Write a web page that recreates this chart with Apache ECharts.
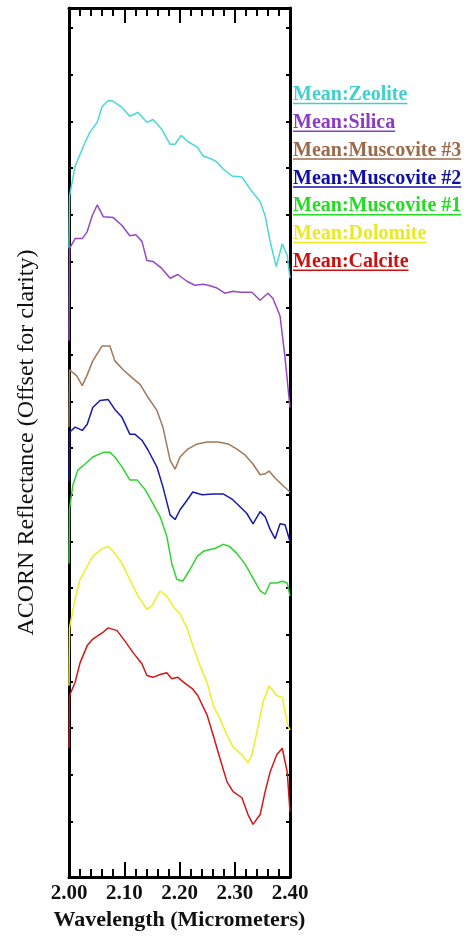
<!DOCTYPE html>
<html>
<head>
<meta charset="utf-8">
<script src="https://cdn.jsdelivr.net/npm/echarts@6/dist/echarts.min.js"></script>
<style>
html,body{margin:0;padding:0;background:#fff;}
#chart{width:468px;height:936px;}
</style>
</head>
<body>
<div id="chart"></div>
<script>
// ---- Data ----
const seriesNames = ['Mean:Zeolite','Mean:Silica','Mean:Muscovite #3','Mean:Muscovite #2','Mean:Muscovite #1','Mean:Dolomite','Mean:Calcite'];
const seriesColors = ['#48d8d8','#9448c8','#a0785a','#1818b0','#30d430','#eeee22','#d01818'];
const legendColors = ['#40d0d0','#8a3cc8','#9c6a4a','#1010a8','#22dd22','#eaea20','#cc1010'];

const xTickLabels = ['2.00','2.10','2.20','2.30','2.40'];
const yTickValues = [1,2,3,4,5,6,7,8,9,10,11,12,13,14,15,16,17,18];

const zeoliteWl = [2.000,2.001,2.011,2.029,2.038,2.051,2.060,2.071,2.080,2.096,2.110,2.125,2.141,2.152,2.168,2.183,2.192,2.203,2.215,2.232,2.243,2.259,2.268,2.279,2.295,2.313,2.328,2.346,2.355,2.364,2.375,2.386,2.395,2.400];
const zeoliteR  = [13.28,14.40,15.04,15.55,15.77,15.98,16.32,16.45,16.43,16.30,16.11,16.19,15.98,16.04,15.83,15.51,15.51,15.70,15.57,15.45,15.26,15.19,15.13,14.98,14.83,14.81,14.55,14.28,13.98,13.43,12.89,13.38,13.13,12.64];

const silicaWl = [2.000,2.001,2.011,2.024,2.033,2.042,2.051,2.062,2.080,2.096,2.110,2.121,2.132,2.141,2.152,2.168,2.183,2.197,2.214,2.228,2.243,2.252,2.268,2.282,2.297,2.310,2.331,2.346,2.360,2.369,2.382,2.391,2.400];
const silicaR  = [11.30,13.28,13.49,13.49,13.64,13.98,14.21,13.96,13.94,13.77,13.55,13.57,13.43,13.02,13.00,12.85,12.64,12.72,12.57,12.49,12.51,12.49,12.43,12.32,12.36,12.34,12.34,12.17,12.32,12.21,11.83,10.94,9.87];

const musc3Wl = [2.000,2.001,2.014,2.024,2.033,2.043,2.060,2.074,2.083,2.098,2.114,2.129,2.143,2.159,2.170,2.183,2.192,2.201,2.215,2.232,2.250,2.270,2.288,2.304,2.319,2.333,2.346,2.355,2.362,2.373,2.386,2.400];
const musc3R  = [9.45,10.68,10.55,10.34,10.57,10.87,11.19,11.19,10.87,10.68,10.51,10.36,10.09,9.81,9.45,8.74,8.55,8.81,8.98,9.09,9.13,9.13,9.09,8.98,8.85,8.66,8.43,8.45,8.51,8.36,8.21,8.06];

const musc2Wl = [2.000,2.001,2.011,2.024,2.033,2.043,2.056,2.071,2.083,2.096,2.110,2.119,2.132,2.143,2.159,2.170,2.183,2.192,2.201,2.214,2.224,2.241,2.261,2.279,2.295,2.310,2.322,2.333,2.346,2.355,2.364,2.373,2.382,2.391,2.400];
const musc2R  = [8.28,9.34,9.45,9.38,9.51,9.87,10.02,10.04,9.83,9.66,9.30,9.30,9.17,8.96,8.60,8.17,7.57,7.47,7.68,7.89,8.06,8.00,8.02,8.02,7.91,7.74,7.60,7.38,7.64,7.53,7.26,7.06,7.38,7.36,7.00];

const musc1Wl = [2.000,2.001,2.007,2.016,2.029,2.043,2.062,2.074,2.083,2.096,2.110,2.123,2.138,2.152,2.165,2.177,2.186,2.195,2.206,2.219,2.232,2.243,2.255,2.264,2.279,2.291,2.304,2.319,2.331,2.346,2.355,2.364,2.376,2.386,2.395,2.400];
const musc1R  = [6.53,7.70,8.21,8.53,8.66,8.81,8.91,8.91,8.81,8.60,8.32,8.32,8.11,7.81,7.53,7.11,6.53,6.19,6.15,6.40,6.68,6.79,6.83,6.85,6.94,6.89,6.74,6.51,6.26,5.94,5.87,6.11,6.11,6.15,6.11,5.83];

const dolomiteWl = [2.000,2.001,2.011,2.020,2.033,2.043,2.060,2.071,2.080,2.096,2.110,2.125,2.141,2.150,2.165,2.177,2.188,2.201,2.214,2.224,2.237,2.250,2.261,2.273,2.286,2.297,2.313,2.324,2.331,2.340,2.351,2.362,2.376,2.386,2.396,2.400];
const dolomiteR  = [3.91,5.15,5.77,6.19,6.47,6.68,6.85,6.89,6.79,6.53,6.19,5.83,5.55,5.62,5.94,5.83,5.62,5.45,5.13,4.77,4.34,3.98,3.49,3.21,2.85,2.60,2.43,2.26,2.43,2.91,3.55,3.91,3.70,3.66,3.06,2.96];

const calciteWl = [2.000,2.001,2.011,2.020,2.033,2.043,2.060,2.071,2.087,2.101,2.116,2.132,2.141,2.152,2.165,2.177,2.186,2.197,2.210,2.223,2.233,2.250,2.261,2.273,2.286,2.297,2.313,2.324,2.333,2.346,2.355,2.364,2.376,2.386,2.395,2.400];
const calciteR  = [2.57,3.70,3.98,4.40,4.77,4.91,5.04,5.15,5.09,4.87,4.62,4.38,4.13,4.09,4.15,4.19,4.06,4.09,3.96,3.85,3.70,3.28,2.85,2.36,1.85,1.64,1.51,1.15,0.94,1.15,1.64,2.06,2.43,2.57,2.06,1.21];

const allWl = [zeoliteWl, silicaWl, musc3Wl, musc2Wl, musc1Wl, dolomiteWl, calciteWl];
const allR  = [zeoliteR, silicaR, musc3R, musc2R, musc1R, dolomiteR, calciteR];

// ---- Chart ----
const FONT = '"Liberation Serif", "Times New Roman", serif';
const chart = echarts.init(document.getElementById('chart'), null, {renderer: 'canvas'});

const series = seriesNames.map((name, i) => ({
  name: name,
  type: 'line',
  xAxisIndex: 0,
  yAxisIndex: 0,
  showSymbol: false,
  symbol: 'none',
  smooth: false,
  data: allWl[i].map((w, k) => [w, allR[i][k]]),
  lineStyle: {color: seriesColors[i], width: 1.5},
  itemStyle: {color: seriesColors[i]},
  emphasis: {disabled: true},
  z: 2
}));

const axisLineStyle = {color: '#000', width: 3};
const xCommon = {
  type: 'value', min: 2.0, max: 2.4, interval: 0.1,
  axisLine: {show: true, onZero: false, lineStyle: axisLineStyle},
  axisTick: {show: true, inside: true, length: 15, lineStyle: {color: '#000', width: 2}},
  minorTick: {show: true, splitNumber: 5, length: 8, lineStyle: {color: '#000', width: 2}},
  splitLine: {show: false},
  minorSplitLine: {show: false}
};
const yCommon = {
  type: 'value', min: -0.19, max: 18.43,
  axisLine: {show: true, onZero: false, lineStyle: axisLineStyle},
  axisTick: {show: true, inside: true, length: 4, customValues: yTickValues, lineStyle: {color: '#000', width: 2}},
  axisLabel: {show: false},
  splitLine: {show: false}
};

// legend underline graphics (decoration)
const canvas = document.createElement('canvas');
const ctx = canvas.getContext('2d');
const legendFontSize = 20;
ctx.font = 'bold ' + legendFontSize + 'px "Liberation Serif"';
const legendTop = 85, legendStep = 27.8, legendLeft = 293;
const underlines = seriesNames.map((n, i) => {
  const w = ctx.measureText(n).width;
  const y = legendTop + i * legendStep + 18.5;
  return {
    type: 'line',
    shape: {x1: legendLeft, y1: y, x2: legendLeft + w, y2: y},
    style: {stroke: legendColors[i], lineWidth: 1.5},
    silent: true
  };
});

chart.setOption({
  backgroundColor: '#fff',
  animation: false,
  grid: {left: 69, right: 178, top: 8, bottom: 53, containLabel: false},
  legend: {
    show: true,
    orient: 'vertical',
    left: legendLeft,
    top: legendTop,
    icon: 'none',
    itemWidth: 0,
    itemHeight: 20,
    itemGap: legendStep - 20,
    padding: 0,
    selectedMode: false,
    textStyle: {fontFamily: FONT, fontWeight: 'bold', fontSize: legendFontSize, lineHeight: 20, padding: [0,0,0,-5]},
    data: seriesNames.map((n, i) => ({name: n, textStyle: {color: legendColors[i]}}))
  },
  xAxis: [
    Object.assign({}, xCommon, {
      position: 'bottom',
      name: 'Wavelength (Micrometers)',
      nameLocation: 'middle',
      nameGap: 26,
      nameTextStyle: {fontFamily: FONT, fontWeight: 'bold', fontSize: 22, color: '#111'},
      axisLabel: {show: true, margin: 6, fontFamily: FONT, fontWeight: 'bold', fontSize: 21, color: '#111',
        formatter: v => { const i = Math.round((v - 2.0) / 0.1); return xTickLabels[i] !== undefined ? xTickLabels[i] : ''; }}
    }),
    Object.assign({}, xCommon, {position: 'top', axisLabel: {show: false}})
  ],
  yAxis: [
    Object.assign({}, yCommon, {
      position: 'left',
      name: 'ACORN Reflectance (Offset for clarity)',
      nameLocation: 'middle',
      nameGap: 30,
      nameRotate: 90,
      nameTextStyle: {fontFamily: FONT, fontSize: 24, color: '#111'}
    }),
    Object.assign({}, yCommon, {position: 'right'})
  ],
  graphic: underlines,
  series: series
});
</script>
</body>
</html>
